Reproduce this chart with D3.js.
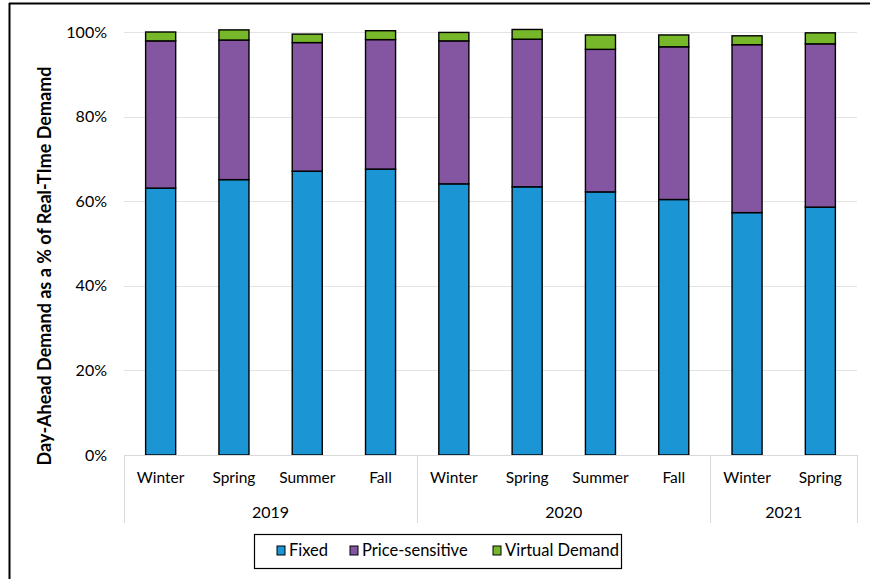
<!DOCTYPE html>
<html>
<head>
<meta charset="utf-8">
<script src="https://cdn.jsdelivr.net/npm/d3@7"></script>
<style>
  body { margin: 0; background: #fff; }
  text { font-family: Lato, "Open Sans", sans-serif; fill: #000; }
</style>
</head>
<body>
<svg id="chart" width="870" height="580"></svg>
<script>
// Kategorier og år
var seasons = ["Winter", "Spring", "Summer", "Fall", "Winter", "Spring", "Summer", "Fall", "Winter", "Spring"];
var years = ["2019", "2019", "2019", "2019", "2020", "2020", "2020", "2020", "2021", "2021"];
var seriesNames = ["Fixed", "Price-sensitive", "Virtual Demand"];
var seriesColors = ["#1b95d3", "#8455a0", "#77b82a"];

// Værdier i procent
var fixed = [63.1, 65.1, 67.1, 67.6, 64.1, 63.4, 62.2, 60.4, 57.3, 58.6];
var priceSensitive = [34.8, 33.0, 30.4, 30.6, 33.8, 34.9, 33.7, 36.1, 39.7, 38.6];
var virtualDemand = [2.1, 2.4, 2.0, 2.1, 2.0, 2.3, 3.4, 2.8, 2.1, 2.6];

var yTicks = [0, 20, 40, 60, 80, 100];

var svg = d3.select("#chart");

// Ramme rundt om figuren
svg.append("line").attr("x1", 9).attr("x2", 870).attr("y1", 3.5).attr("y2", 3.5)
    .attr("stroke", "#000").attr("stroke-width", 2);
svg.append("line").attr("x1", 9.5).attr("x2", 9.5).attr("y1", 3).attr("y2", 579)
    .attr("stroke", "#000").attr("stroke-width", 2);

var plotLeft = 124, plotRight = 857, plotTop = 32, plotBottom = 455;

var x = d3.scaleBand()
    .domain(d3.range(seasons.length))
    .range([plotLeft, plotRight])
    .paddingInner(0.59)
    .paddingOuter(0.295);

var y = d3.scaleLinear().domain([0, 100]).range([plotBottom, plotTop]);

// Gitterlinjer
svg.append("g").selectAll("line")
    .data(yTicks.filter(d => d > 0))
    .enter().append("line")
    .attr("x1", plotLeft).attr("x2", plotRight)
    .attr("y1", d => Math.round(y(d)) + 0.5).attr("y2", d => Math.round(y(d)) + 0.5)
    .attr("stroke", "#e3e3e3").attr("stroke-width", 1.2);

// Y-akse labels
svg.append("g").selectAll("text")
    .data(yTicks)
    .enter().append("text")
    .attr("x", 107)
    .attr("y", d => y(d))
    .attr("dy", "0.35em")
    .attr("text-anchor", "end")
    .style("font-size", "16px")
    .text(d => d + "%");

// Stablede data
var rows = seasons.map(function(s, i) {
    return { i: i, "Fixed": fixed[i], "Price-sensitive": priceSensitive[i], "Virtual Demand": virtualDemand[i] };
});
var stacked = d3.stack().keys(seriesNames)(rows);

svg.append("g").selectAll("g")
    .data(stacked)
    .enter().append("g")
    .attr("fill", (d, k) => seriesColors[k])
    .selectAll("rect")
    .data(d => d)
    .enter().append("rect")
    .attr("x", d => x(d.data.i))
    .attr("width", x.bandwidth())
    .attr("y", d => y(d[1]))
    .attr("height", d => y(d[0]) - y(d[1]))
    .attr("stroke", "#000")
    .attr("stroke-width", 1.4);

// X-akse: baseline og skillelinjer
svg.append("line").attr("x1", plotLeft).attr("x2", plotRight)
    .attr("y1", plotBottom + 0.5).attr("y2", plotBottom + 0.5)
    .attr("stroke", "#d9d9d9");

var yearGroups = d3.groups(d3.range(years.length), i => years[i]);
var step = x.step();
var sepXs = [plotLeft];
yearGroups.forEach(function(g) {
    var last = g[1][g[1].length - 1];
    sepXs.push(x(last) + x.bandwidth() / 2 + step / 2);
});
svg.append("g").selectAll("line")
    .data(sepXs)
    .enter().append("line")
    .attr("x1", d => Math.round(d) + 0.5).attr("x2", d => Math.round(d) + 0.5)
    .attr("y1", plotBottom).attr("y2", 523)
    .attr("stroke", "#d9d9d9");

// Sæson labels
svg.append("g").selectAll("text")
    .data(seasons)
    .enter().append("text")
    .attr("x", (d, i) => x(i) + x.bandwidth() / 2)
    .attr("y", 483)
    .attr("text-anchor", "middle")
    .style("font-size", "15.5px")
    .text(d => d);

// År labels
svg.append("g").selectAll("text")
    .data(yearGroups)
    .enter().append("text")
    .attr("x", function(g) {
        var a = g[1][0], b = g[1][g[1].length - 1];
        return (x(a) + x(b) + x.bandwidth()) / 2;
    })
    .attr("y", 518)
    .attr("text-anchor", "middle")
    .style("font-size", "16px")
    .text(g => g[0]);

// Y-akse titel
svg.append("text")
    .attr("transform", "translate(51,266) rotate(-90)")
    .attr("text-anchor", "middle")
    .style("font-size", "18px")
    .style("font-weight", "bold")
    .text("Day-Ahead Demand as a % of Real-TIme Demamd");

// Legend
svg.append("rect")
    .attr("x", 254.5).attr("y", 534.5).attr("width", 367).attr("height", 34)
    .attr("fill", "#fff").attr("stroke", "#000").attr("stroke-width", 1.2);

var legendX = [277, 350, 493];
var legend = svg.append("g").selectAll("g")
    .data(seriesNames)
    .enter().append("g")
    .attr("transform", (d, k) => "translate(" + legendX[k] + ",546)");
legend.append("rect")
    .attr("width", 8).attr("height", 9)
    .attr("fill", (d, k) => seriesColors[k])
    .attr("stroke", "#000").attr("stroke-width", 1);
legend.append("text")
    .attr("x", 12).attr("y", 4.5).attr("dy", "0.35em")
    .style("font-size", "16.5px")
    .text(d => d);
</script>
</body>
</html>
